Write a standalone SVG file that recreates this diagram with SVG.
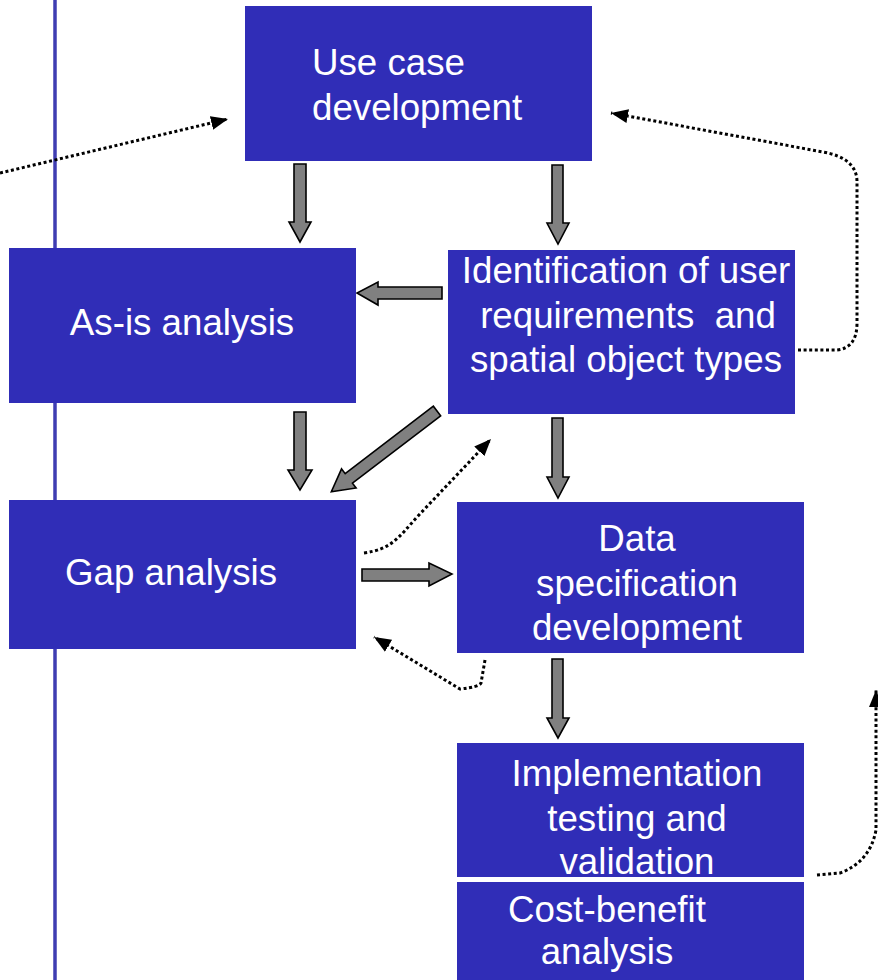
<svg xmlns="http://www.w3.org/2000/svg" width="878" height="980" viewBox="0 0 878 980">
  <style>
    .box { fill: #302DB7; }
    .lbl { fill: #ffffff; font-family: "Liberation Sans", Arial, sans-serif; font-size: 36.7px; text-anchor: middle; white-space: pre; }
    .blk { fill: #808080; stroke: #000000; stroke-width: 1.6; stroke-linejoin: miter; }
    .dot { fill: none; stroke: #000000; stroke-width: 3; stroke-dasharray: 3 2.6; marker-end: url(#tip); }
  </style>
  <defs>
    <marker id="tip" markerUnits="userSpaceOnUse" markerWidth="17" markerHeight="14" refX="17" refY="7" orient="auto">
      <path d="M0,0 L17,7 L0,14 z" fill="#000000"/>
    </marker>
  </defs>

  <rect width="878" height="980" fill="#ffffff"/>

  <!-- vertical margin rule -->
  <line x1="55" y1="0" x2="55" y2="980" stroke="#3F3DB2" stroke-width="3.5"/>

  <g id="connectors">
    <!-- block arrows -->
    <polygon class="blk" points="294,164 306,164 306,222 311,222 300,242 289,222 294,222"/>
    <polygon class="blk" points="552,165 563,165 563,223 569,223 558,244 547,223 552,223"/>
    <polygon class="blk" points="442,287 442,299 378,299 378,305 357,293 378,282 378,287"/>
    <polygon class="blk" points="294,412 306,412 306,470 312,470 300,490 288,470 294,470"/>
    <polygon class="blk" points="0,-6 111,-6 111,-12 133,0 111,12 111,6 0,6" transform="translate(437,411) rotate(142.6)"/>
    <polygon class="blk" points="552,418 563,418 563,477 569,477 558,498 547,477 552,477"/>
    <polygon class="blk" points="362,569 429,569 429,563 452,574 429,586 429,581 362,581"/>
    <polygon class="blk" points="552,659 563,659 563,718 569,718 558,738 547,718 552,718"/>

    <!-- dotted feedback links -->
    <path class="dot" d="M0,173 L228,119"/>
    <path class="dot" d="M798,350 L837,350 Q857,348 857,323 L857,182 Q857,158 823,152 L611,113"/>
    <path class="dot" d="M364,553 C392,549 398,538 418,516 L491,439"/>
    <path class="dot" d="M485,660 L481,683 Q479,687 460,689 L374,637"/>
    <path class="dot" d="M817,875 L840,873 Q870,862 876,830 L876,690"/>
  </g>

  <g id="use-case">
    <rect class="box" x="245" y="6" width="347" height="155"/>
    <text class="lbl" style="text-anchor:start" x="312" y="75">Use case</text>
    <text class="lbl" style="text-anchor:start" x="312" y="120">development</text>
  </g>

  <g id="as-is">
    <rect class="box" x="9" y="248" width="347" height="155"/>
    <text class="lbl" x="182" y="335">As-is analysis</text>
  </g>

  <g id="identification">
    <rect class="box" x="448" y="250" width="347" height="164"/>
    <text class="lbl" x="626" y="283">Identification of user</text>
    <text class="lbl" x="628" y="328">requirements  and</text>
    <text class="lbl" x="626" y="372">spatial object types</text>
  </g>

  <g id="gap">
    <rect class="box" x="9" y="500" width="347" height="149"/>
    <text class="lbl" x="171" y="585">Gap analysis</text>
  </g>

  <g id="data-spec">
    <rect class="box" x="457" y="502" width="347" height="151"/>
    <text class="lbl" x="637" y="551">Data</text>
    <text class="lbl" x="637" y="596">specification</text>
    <text class="lbl" x="637" y="640">development</text>
  </g>

  <g id="implementation">
    <rect class="box" x="457" y="743" width="347" height="134"/>
    <text class="lbl" x="637" y="786">Implementation</text>
    <text class="lbl" x="637" y="831">testing and</text>
    <text class="lbl" x="637" y="874">validation</text>
  </g>

  <g id="cost-benefit">
    <rect class="box" x="457" y="882" width="347" height="98"/>
    <text class="lbl" x="607" y="922">Cost-benefit</text>
    <text class="lbl" x="607" y="964">analysis</text>
  </g>
</svg>
